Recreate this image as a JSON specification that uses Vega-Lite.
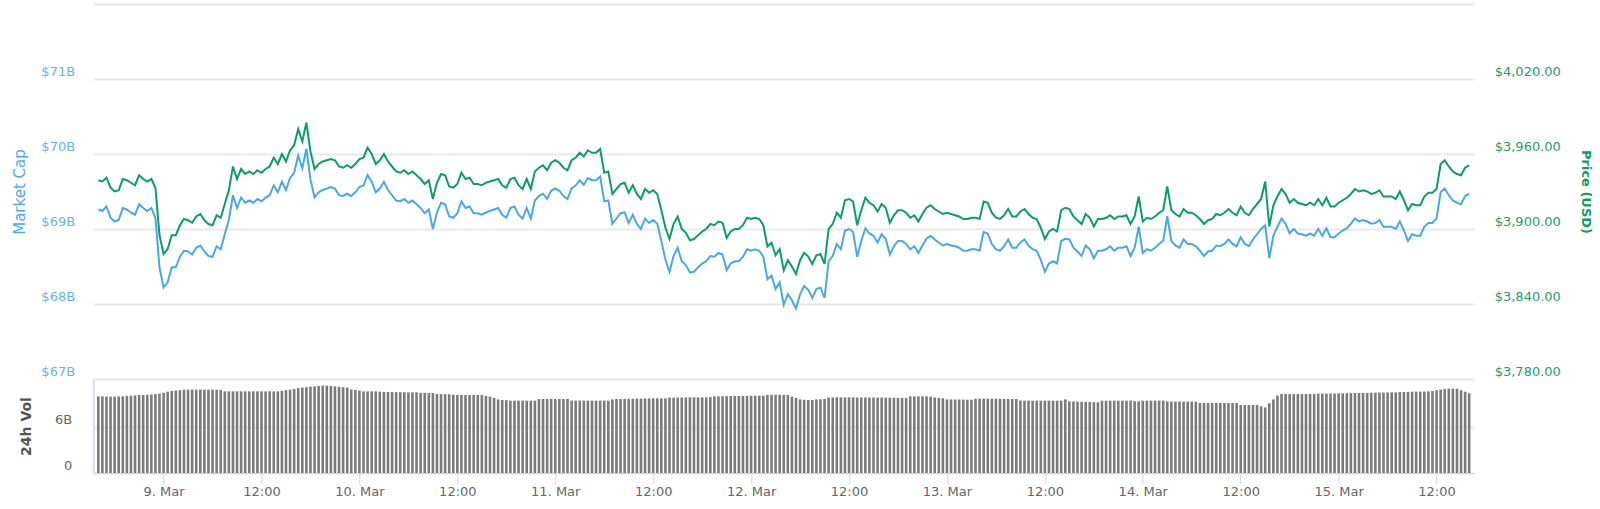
{
  "$schema": "https://vega.github.io/schema/vega-lite/v6.json",
  "autosize": {"type": "fit-x", "contains": "padding"},
  "padding": {"left": 12.3, "top": 4, "right": 7.8, "bottom": 5},
  "width": 1600,
  "height": 469,
  "data": {
    "values": [
      {"t":"2019-03-08T16:00","p":3939,"m":69.26,"v":10.0},
      {"t":"2019-03-08T16:30","p":3938,"m":69.24,"v":10.0},
      {"t":"2019-03-08T17:00","p":3941,"m":69.30,"v":9.98},
      {"t":"2019-03-08T17:30","p":3933,"m":69.15,"v":9.96},
      {"t":"2019-03-08T18:00","p":3930,"m":69.10,"v":9.95},
      {"t":"2019-03-08T18:30","p":3931,"m":69.12,"v":9.98},
      {"t":"2019-03-08T19:00","p":3940,"m":69.28,"v":10.0},
      {"t":"2019-03-08T19:30","p":3939,"m":69.26,"v":10.05},
      {"t":"2019-03-08T20:00","p":3937,"m":69.22,"v":10.08},
      {"t":"2019-03-08T20:30","p":3935,"m":69.19,"v":10.12},
      {"t":"2019-03-08T21:00","p":3943,"m":69.33,"v":10.17},
      {"t":"2019-03-08T21:30","p":3940,"m":69.28,"v":10.17},
      {"t":"2019-03-08T22:00","p":3938,"m":69.24,"v":10.2},
      {"t":"2019-03-08T22:30","p":3940,"m":69.28,"v":10.25},
      {"t":"2019-03-08T23:00","p":3933,"m":69.15,"v":10.3},
      {"t":"2019-03-08T23:30","p":3895,"m":68.49,"v":10.35},
      {"t":"2019-03-09T00:00","p":3880,"m":68.22,"v":10.45},
      {"t":"2019-03-09T00:30","p":3884,"m":68.29,"v":10.6},
      {"t":"2019-03-09T01:00","p":3895,"m":68.49,"v":10.7},
      {"t":"2019-03-09T01:30","p":3895,"m":68.49,"v":10.75},
      {"t":"2019-03-09T02:00","p":3903,"m":68.63,"v":10.8},
      {"t":"2019-03-09T02:30","p":3908,"m":68.71,"v":10.87},
      {"t":"2019-03-09T03:00","p":3907,"m":68.70,"v":10.87},
      {"t":"2019-03-09T03:30","p":3905,"m":68.66,"v":10.88},
      {"t":"2019-03-09T04:00","p":3910,"m":68.75,"v":10.87},
      {"t":"2019-03-09T04:30","p":3912,"m":68.78,"v":10.87},
      {"t":"2019-03-09T05:00","p":3907,"m":68.70,"v":10.86},
      {"t":"2019-03-09T05:30","p":3904,"m":68.64,"v":10.87},
      {"t":"2019-03-09T06:00","p":3903,"m":68.63,"v":10.87},
      {"t":"2019-03-09T06:30","p":3911,"m":68.77,"v":10.85},
      {"t":"2019-03-09T07:00","p":3909,"m":68.73,"v":10.83},
      {"t":"2019-03-09T07:30","p":3920,"m":68.93,"v":10.65},
      {"t":"2019-03-09T08:00","p":3931,"m":69.12,"v":10.65},
      {"t":"2019-03-09T08:30","p":3950,"m":69.45,"v":10.65},
      {"t":"2019-03-09T09:00","p":3940,"m":69.28,"v":10.65},
      {"t":"2019-03-09T09:30","p":3948,"m":69.42,"v":10.65},
      {"t":"2019-03-09T10:00","p":3944,"m":69.35,"v":10.65},
      {"t":"2019-03-09T10:30","p":3946,"m":69.38,"v":10.65},
      {"t":"2019-03-09T11:00","p":3944,"m":69.35,"v":10.66},
      {"t":"2019-03-09T11:30","p":3947,"m":69.40,"v":10.65},
      {"t":"2019-03-09T12:00","p":3945,"m":69.37,"v":10.65},
      {"t":"2019-03-09T12:30","p":3948,"m":69.42,"v":10.64},
      {"t":"2019-03-09T13:00","p":3950,"m":69.45,"v":10.65},
      {"t":"2019-03-09T13:30","p":3957,"m":69.58,"v":10.65},
      {"t":"2019-03-09T14:00","p":3952,"m":69.49,"v":10.65},
      {"t":"2019-03-09T14:30","p":3960,"m":69.63,"v":10.7},
      {"t":"2019-03-09T15:00","p":3954,"m":69.52,"v":10.8},
      {"t":"2019-03-09T15:30","p":3963,"m":69.68,"v":10.87},
      {"t":"2019-03-09T16:00","p":3967,"m":69.75,"v":10.95},
      {"t":"2019-03-09T16:30","p":3980,"m":69.98,"v":11.09},
      {"t":"2019-03-09T17:00","p":3970,"m":69.81,"v":11.15},
      {"t":"2019-03-09T17:30","p":3985,"m":70.07,"v":11.2},
      {"t":"2019-03-09T18:00","p":3962,"m":69.66,"v":11.25},
      {"t":"2019-03-09T18:30","p":3948,"m":69.42,"v":11.3},
      {"t":"2019-03-09T19:00","p":3952,"m":69.49,"v":11.35},
      {"t":"2019-03-09T19:30","p":3954,"m":69.52,"v":11.39},
      {"t":"2019-03-09T20:00","p":3955,"m":69.54,"v":11.4},
      {"t":"2019-03-09T20:30","p":3956,"m":69.56,"v":11.35},
      {"t":"2019-03-09T21:00","p":3955,"m":69.54,"v":11.3},
      {"t":"2019-03-09T21:30","p":3950,"m":69.45,"v":11.25},
      {"t":"2019-03-09T22:00","p":3949,"m":69.44,"v":11.2},
      {"t":"2019-03-09T22:30","p":3951,"m":69.47,"v":11.15},
      {"t":"2019-03-09T23:00","p":3949,"m":69.44,"v":10.9},
      {"t":"2019-03-09T23:30","p":3952,"m":69.49,"v":10.83},
      {"t":"2019-03-10T00:00","p":3956,"m":69.56,"v":10.75},
      {"t":"2019-03-10T00:30","p":3957,"m":69.58,"v":10.65},
      {"t":"2019-03-10T01:00","p":3965,"m":69.72,"v":10.65},
      {"t":"2019-03-10T01:30","p":3960,"m":69.63,"v":10.65},
      {"t":"2019-03-10T02:00","p":3952,"m":69.49,"v":10.65},
      {"t":"2019-03-10T02:30","p":3955,"m":69.54,"v":10.6},
      {"t":"2019-03-10T03:00","p":3960,"m":69.63,"v":10.58},
      {"t":"2019-03-10T03:30","p":3954,"m":69.52,"v":10.56},
      {"t":"2019-03-10T04:00","p":3950,"m":69.45,"v":10.55},
      {"t":"2019-03-10T04:30","p":3946,"m":69.38,"v":10.55},
      {"t":"2019-03-10T05:00","p":3945,"m":69.37,"v":10.54},
      {"t":"2019-03-10T05:30","p":3947,"m":69.40,"v":10.53},
      {"t":"2019-03-10T06:00","p":3944,"m":69.35,"v":10.52},
      {"t":"2019-03-10T06:30","p":3946,"m":69.38,"v":10.52},
      {"t":"2019-03-10T07:00","p":3943,"m":69.33,"v":10.52},
      {"t":"2019-03-10T07:30","p":3940,"m":69.28,"v":10.45},
      {"t":"2019-03-10T08:00","p":3936,"m":69.21,"v":10.45},
      {"t":"2019-03-10T08:30","p":3939,"m":69.26,"v":10.44},
      {"t":"2019-03-10T09:00","p":3924,"m":69.00,"v":10.43},
      {"t":"2019-03-10T09:30","p":3937,"m":69.22,"v":10.3},
      {"t":"2019-03-10T10:00","p":3944,"m":69.35,"v":10.28},
      {"t":"2019-03-10T10:30","p":3943,"m":69.33,"v":10.27},
      {"t":"2019-03-10T11:00","p":3934,"m":69.17,"v":10.26},
      {"t":"2019-03-10T11:30","p":3933,"m":69.15,"v":10.2},
      {"t":"2019-03-10T12:00","p":3936,"m":69.21,"v":10.18},
      {"t":"2019-03-10T12:30","p":3945,"m":69.37,"v":10.17},
      {"t":"2019-03-10T13:00","p":3940,"m":69.28,"v":10.17},
      {"t":"2019-03-10T13:30","p":3941,"m":69.30,"v":10.17},
      {"t":"2019-03-10T14:00","p":3936,"m":69.21,"v":10.17},
      {"t":"2019-03-10T14:30","p":3936,"m":69.21,"v":10.17},
      {"t":"2019-03-10T15:00","p":3935,"m":69.19,"v":10.17},
      {"t":"2019-03-10T15:30","p":3937,"m":69.22,"v":10.05},
      {"t":"2019-03-10T16:00","p":3938,"m":69.24,"v":9.96},
      {"t":"2019-03-10T16:30","p":3939,"m":69.26,"v":9.8},
      {"t":"2019-03-10T17:00","p":3940,"m":69.28,"v":9.6},
      {"t":"2019-03-10T17:30","p":3935,"m":69.19,"v":9.52},
      {"t":"2019-03-10T18:00","p":3933,"m":69.15,"v":9.5},
      {"t":"2019-03-10T18:30","p":3940,"m":69.28,"v":9.43},
      {"t":"2019-03-10T19:00","p":3941,"m":69.30,"v":9.43},
      {"t":"2019-03-10T19:30","p":3935,"m":69.19,"v":9.43},
      {"t":"2019-03-10T20:00","p":3932,"m":69.14,"v":9.43},
      {"t":"2019-03-10T20:30","p":3940,"m":69.28,"v":9.43},
      {"t":"2019-03-10T21:00","p":3932,"m":69.14,"v":9.43},
      {"t":"2019-03-10T21:30","p":3946,"m":69.38,"v":9.43},
      {"t":"2019-03-10T22:00","p":3949,"m":69.44,"v":9.65},
      {"t":"2019-03-10T22:30","p":3951,"m":69.47,"v":9.65},
      {"t":"2019-03-10T23:00","p":3947,"m":69.40,"v":9.65},
      {"t":"2019-03-10T23:30","p":3953,"m":69.51,"v":9.65},
      {"t":"2019-03-11T00:00","p":3955,"m":69.54,"v":9.65},
      {"t":"2019-03-11T00:30","p":3953,"m":69.51,"v":9.65},
      {"t":"2019-03-11T01:00","p":3949,"m":69.44,"v":9.65},
      {"t":"2019-03-11T01:30","p":3947,"m":69.40,"v":9.65},
      {"t":"2019-03-11T02:00","p":3955,"m":69.54,"v":9.43},
      {"t":"2019-03-11T02:30","p":3957,"m":69.58,"v":9.43},
      {"t":"2019-03-11T03:00","p":3961,"m":69.65,"v":9.43},
      {"t":"2019-03-11T03:30","p":3958,"m":69.59,"v":9.43},
      {"t":"2019-03-11T04:00","p":3963,"m":69.68,"v":9.43},
      {"t":"2019-03-11T04:30","p":3961,"m":69.65,"v":9.43},
      {"t":"2019-03-11T05:00","p":3961,"m":69.65,"v":9.43},
      {"t":"2019-03-11T05:30","p":3964,"m":69.70,"v":9.43},
      {"t":"2019-03-11T06:00","p":3945,"m":69.37,"v":9.43},
      {"t":"2019-03-11T06:30","p":3946,"m":69.38,"v":9.43},
      {"t":"2019-03-11T07:00","p":3928,"m":69.07,"v":9.6},
      {"t":"2019-03-11T07:30","p":3932,"m":69.14,"v":9.65},
      {"t":"2019-03-11T08:00","p":3936,"m":69.21,"v":9.65},
      {"t":"2019-03-11T08:30","p":3937,"m":69.22,"v":9.66},
      {"t":"2019-03-11T09:00","p":3929,"m":69.08,"v":9.67},
      {"t":"2019-03-11T09:30","p":3935,"m":69.19,"v":9.68},
      {"t":"2019-03-11T10:00","p":3928,"m":69.07,"v":9.7},
      {"t":"2019-03-11T10:30","p":3924,"m":69.00,"v":9.7},
      {"t":"2019-03-11T11:00","p":3932,"m":69.14,"v":9.72},
      {"t":"2019-03-11T11:30","p":3929,"m":69.08,"v":9.73},
      {"t":"2019-03-11T12:00","p":3931,"m":69.12,"v":9.74},
      {"t":"2019-03-11T12:30","p":3928,"m":69.07,"v":9.74},
      {"t":"2019-03-11T13:00","p":3915,"m":68.84,"v":9.74},
      {"t":"2019-03-11T13:30","p":3901,"m":68.59,"v":9.74},
      {"t":"2019-03-11T14:00","p":3892,"m":68.43,"v":9.83},
      {"t":"2019-03-11T14:30","p":3904,"m":68.64,"v":9.83},
      {"t":"2019-03-11T15:00","p":3910,"m":68.75,"v":9.85},
      {"t":"2019-03-11T15:30","p":3900,"m":68.57,"v":9.85},
      {"t":"2019-03-11T16:00","p":3897,"m":68.52,"v":9.86},
      {"t":"2019-03-11T16:30","p":3891,"m":68.42,"v":9.87},
      {"t":"2019-03-11T17:00","p":3892,"m":68.43,"v":9.87},
      {"t":"2019-03-11T17:30","p":3895,"m":68.49,"v":9.87},
      {"t":"2019-03-11T18:00","p":3898,"m":68.54,"v":9.87},
      {"t":"2019-03-11T18:30","p":3900,"m":68.57,"v":9.87},
      {"t":"2019-03-11T19:00","p":3904,"m":68.64,"v":9.9},
      {"t":"2019-03-11T19:30","p":3903,"m":68.63,"v":10.0},
      {"t":"2019-03-11T20:00","p":3906,"m":68.68,"v":10.0},
      {"t":"2019-03-11T20:30","p":3905,"m":68.66,"v":10.02},
      {"t":"2019-03-11T21:00","p":3893,"m":68.45,"v":10.02},
      {"t":"2019-03-11T21:30","p":3898,"m":68.54,"v":10.03},
      {"t":"2019-03-11T22:00","p":3900,"m":68.57,"v":10.04},
      {"t":"2019-03-11T22:30","p":3900,"m":68.57,"v":10.05},
      {"t":"2019-03-11T23:00","p":3903,"m":68.63,"v":10.06},
      {"t":"2019-03-11T23:30","p":3909,"m":68.73,"v":10.06},
      {"t":"2019-03-12T00:00","p":3908,"m":68.71,"v":10.07},
      {"t":"2019-03-12T00:30","p":3909,"m":68.73,"v":10.08},
      {"t":"2019-03-12T01:00","p":3908,"m":68.71,"v":10.08},
      {"t":"2019-03-12T01:30","p":3903,"m":68.63,"v":10.08},
      {"t":"2019-03-12T02:00","p":3886,"m":68.33,"v":10.2},
      {"t":"2019-03-12T02:30","p":3889,"m":68.38,"v":10.21},
      {"t":"2019-03-12T03:00","p":3879,"m":68.20,"v":10.2},
      {"t":"2019-03-12T03:30","p":3884,"m":68.29,"v":10.2},
      {"t":"2019-03-12T04:00","p":3867,"m":67.99,"v":10.18},
      {"t":"2019-03-12T04:30","p":3875,"m":68.13,"v":10.17},
      {"t":"2019-03-12T05:00","p":3870,"m":68.05,"v":9.95},
      {"t":"2019-03-12T05:30","p":3864,"m":67.94,"v":9.8},
      {"t":"2019-03-12T06:00","p":3875,"m":68.13,"v":9.6},
      {"t":"2019-03-12T06:30","p":3881,"m":68.24,"v":9.55},
      {"t":"2019-03-12T07:00","p":3878,"m":68.19,"v":9.52},
      {"t":"2019-03-12T07:30","p":3872,"m":68.08,"v":9.52},
      {"t":"2019-03-12T08:00","p":3879,"m":68.20,"v":9.6},
      {"t":"2019-03-12T08:30","p":3880,"m":68.22,"v":9.62},
      {"t":"2019-03-12T09:00","p":3872,"m":68.08,"v":9.65},
      {"t":"2019-03-12T09:30","p":3900,"m":68.57,"v":9.83},
      {"t":"2019-03-12T10:00","p":3904,"m":68.64,"v":9.85},
      {"t":"2019-03-12T10:30","p":3913,"m":68.80,"v":9.87},
      {"t":"2019-03-12T11:00","p":3909,"m":68.73,"v":9.87},
      {"t":"2019-03-12T11:30","p":3923,"m":68.98,"v":9.86},
      {"t":"2019-03-12T12:00","p":3924,"m":69.00,"v":9.87},
      {"t":"2019-03-12T12:30","p":3922,"m":68.96,"v":9.86},
      {"t":"2019-03-12T13:00","p":3903,"m":68.63,"v":9.85},
      {"t":"2019-03-12T13:30","p":3915,"m":68.84,"v":9.86},
      {"t":"2019-03-12T14:00","p":3925,"m":69.01,"v":9.85},
      {"t":"2019-03-12T14:30","p":3921,"m":68.94,"v":9.84},
      {"t":"2019-03-12T15:00","p":3919,"m":68.91,"v":9.84},
      {"t":"2019-03-12T15:30","p":3914,"m":68.82,"v":9.83},
      {"t":"2019-03-12T16:00","p":3920,"m":68.93,"v":9.83},
      {"t":"2019-03-12T16:30","p":3917,"m":68.87,"v":9.82},
      {"t":"2019-03-12T17:00","p":3905,"m":68.66,"v":9.82},
      {"t":"2019-03-12T17:30","p":3911,"m":68.77,"v":9.81},
      {"t":"2019-03-12T18:00","p":3915,"m":68.84,"v":9.8},
      {"t":"2019-03-12T18:30","p":3915,"m":68.84,"v":9.8},
      {"t":"2019-03-12T19:00","p":3913,"m":68.80,"v":9.78},
      {"t":"2019-03-12T19:30","p":3909,"m":68.73,"v":10.0},
      {"t":"2019-03-12T20:00","p":3911,"m":68.77,"v":10.0},
      {"t":"2019-03-12T20:30","p":3906,"m":68.68,"v":10.0},
      {"t":"2019-03-12T21:00","p":3912,"m":68.78,"v":10.0},
      {"t":"2019-03-12T21:30","p":3917,"m":68.87,"v":10.0},
      {"t":"2019-03-12T22:00","p":3919,"m":68.91,"v":9.95},
      {"t":"2019-03-12T22:30","p":3916,"m":68.86,"v":9.85},
      {"t":"2019-03-12T23:00","p":3914,"m":68.82,"v":9.8},
      {"t":"2019-03-12T23:30","p":3912,"m":68.78,"v":9.75},
      {"t":"2019-03-13T00:00","p":3913,"m":68.80,"v":9.6},
      {"t":"2019-03-13T00:30","p":3912,"m":68.78,"v":9.6},
      {"t":"2019-03-13T01:00","p":3911,"m":68.77,"v":9.58},
      {"t":"2019-03-13T01:30","p":3910,"m":68.75,"v":9.58},
      {"t":"2019-03-13T02:00","p":3908,"m":68.71,"v":9.57},
      {"t":"2019-03-13T02:30","p":3908,"m":68.71,"v":9.56},
      {"t":"2019-03-13T03:00","p":3909,"m":68.73,"v":9.56},
      {"t":"2019-03-13T03:30","p":3909,"m":68.73,"v":9.68},
      {"t":"2019-03-13T04:00","p":3908,"m":68.71,"v":9.69},
      {"t":"2019-03-13T04:30","p":3922,"m":68.96,"v":9.69},
      {"t":"2019-03-13T05:00","p":3921,"m":68.94,"v":9.69},
      {"t":"2019-03-13T05:30","p":3913,"m":68.80,"v":9.68},
      {"t":"2019-03-13T06:00","p":3909,"m":68.73,"v":9.68},
      {"t":"2019-03-13T06:30","p":3908,"m":68.71,"v":9.68},
      {"t":"2019-03-13T07:00","p":3911,"m":68.77,"v":9.67},
      {"t":"2019-03-13T07:30","p":3916,"m":68.86,"v":9.66},
      {"t":"2019-03-13T08:00","p":3910,"m":68.75,"v":9.66},
      {"t":"2019-03-13T08:30","p":3910,"m":68.75,"v":9.65},
      {"t":"2019-03-13T09:00","p":3914,"m":68.82,"v":9.45},
      {"t":"2019-03-13T09:30","p":3916,"m":68.86,"v":9.43},
      {"t":"2019-03-13T10:00","p":3912,"m":68.78,"v":9.43},
      {"t":"2019-03-13T10:30","p":3909,"m":68.73,"v":9.43},
      {"t":"2019-03-13T11:00","p":3908,"m":68.71,"v":9.43},
      {"t":"2019-03-13T11:30","p":3901,"m":68.59,"v":9.43},
      {"t":"2019-03-13T12:00","p":3892,"m":68.43,"v":9.43},
      {"t":"2019-03-13T12:30","p":3898,"m":68.54,"v":9.43},
      {"t":"2019-03-13T13:00","p":3900,"m":68.57,"v":9.43},
      {"t":"2019-03-13T13:30","p":3898,"m":68.54,"v":9.43},
      {"t":"2019-03-13T14:00","p":3915,"m":68.84,"v":9.43},
      {"t":"2019-03-13T14:30","p":3917,"m":68.87,"v":9.6},
      {"t":"2019-03-13T15:00","p":3916,"m":68.86,"v":9.35},
      {"t":"2019-03-13T15:30","p":3910,"m":68.75,"v":9.33},
      {"t":"2019-03-13T16:00","p":3907,"m":68.70,"v":9.3},
      {"t":"2019-03-13T16:30","p":3904,"m":68.64,"v":9.28},
      {"t":"2019-03-13T17:00","p":3912,"m":68.78,"v":9.27},
      {"t":"2019-03-13T17:30","p":3909,"m":68.73,"v":9.25},
      {"t":"2019-03-13T18:00","p":3902,"m":68.61,"v":9.23},
      {"t":"2019-03-13T18:30","p":3908,"m":68.71,"v":9.22},
      {"t":"2019-03-13T19:00","p":3908,"m":68.71,"v":9.43},
      {"t":"2019-03-13T19:30","p":3909,"m":68.73,"v":9.43},
      {"t":"2019-03-13T20:00","p":3911,"m":68.77,"v":9.43},
      {"t":"2019-03-13T20:30","p":3908,"m":68.71,"v":9.43},
      {"t":"2019-03-13T21:00","p":3910,"m":68.75,"v":9.43},
      {"t":"2019-03-13T21:30","p":3910,"m":68.75,"v":9.43},
      {"t":"2019-03-13T22:00","p":3911,"m":68.77,"v":9.43},
      {"t":"2019-03-13T22:30","p":3904,"m":68.64,"v":9.43},
      {"t":"2019-03-13T23:00","p":3910,"m":68.75,"v":9.38},
      {"t":"2019-03-13T23:30","p":3926,"m":69.03,"v":9.35},
      {"t":"2019-03-14T00:00","p":3906,"m":68.68,"v":9.43},
      {"t":"2019-03-14T00:30","p":3909,"m":68.73,"v":9.43},
      {"t":"2019-03-14T01:00","p":3908,"m":68.71,"v":9.43},
      {"t":"2019-03-14T01:30","p":3910,"m":68.75,"v":9.43},
      {"t":"2019-03-14T02:00","p":3913,"m":68.80,"v":9.43},
      {"t":"2019-03-14T02:30","p":3915,"m":68.84,"v":9.43},
      {"t":"2019-03-14T03:00","p":3934,"m":69.17,"v":9.35},
      {"t":"2019-03-14T03:30","p":3915,"m":68.84,"v":9.32},
      {"t":"2019-03-14T04:00","p":3912,"m":68.78,"v":9.32},
      {"t":"2019-03-14T04:30","p":3910,"m":68.75,"v":9.32},
      {"t":"2019-03-14T05:00","p":3916,"m":68.86,"v":9.32},
      {"t":"2019-03-14T05:30","p":3913,"m":68.80,"v":9.32},
      {"t":"2019-03-14T06:00","p":3913,"m":68.80,"v":9.31},
      {"t":"2019-03-14T06:30","p":3911,"m":68.77,"v":9.3},
      {"t":"2019-03-14T07:00","p":3908,"m":68.71,"v":9.13},
      {"t":"2019-03-14T07:30","p":3904,"m":68.64,"v":9.13},
      {"t":"2019-03-14T08:00","p":3907,"m":68.70,"v":9.13},
      {"t":"2019-03-14T08:30","p":3908,"m":68.71,"v":9.13},
      {"t":"2019-03-14T09:00","p":3912,"m":68.78,"v":9.13},
      {"t":"2019-03-14T09:30","p":3911,"m":68.77,"v":9.13},
      {"t":"2019-03-14T10:00","p":3913,"m":68.80,"v":9.13},
      {"t":"2019-03-14T10:30","p":3916,"m":68.86,"v":9.13},
      {"t":"2019-03-14T11:00","p":3913,"m":68.80,"v":9.13},
      {"t":"2019-03-14T11:30","p":3911,"m":68.77,"v":9.13},
      {"t":"2019-03-14T12:00","p":3918,"m":68.89,"v":8.87},
      {"t":"2019-03-14T12:30","p":3913,"m":68.80,"v":8.87},
      {"t":"2019-03-14T13:00","p":3911,"m":68.77,"v":8.87},
      {"t":"2019-03-14T13:30","p":3916,"m":68.86,"v":8.87},
      {"t":"2019-03-14T14:00","p":3920,"m":68.93,"v":8.87},
      {"t":"2019-03-14T14:30","p":3924,"m":69.00,"v":8.7},
      {"t":"2019-03-14T15:00","p":3938,"m":69.05,"v":8.55},
      {"t":"2019-03-14T15:30","p":3902,"m":68.61,"v":9.1},
      {"t":"2019-03-14T16:00","p":3919,"m":68.91,"v":9.6},
      {"t":"2019-03-14T16:30","p":3926,"m":69.03,"v":10.1},
      {"t":"2019-03-14T17:00","p":3932,"m":69.14,"v":10.3},
      {"t":"2019-03-14T17:30","p":3928,"m":69.07,"v":10.3},
      {"t":"2019-03-14T18:00","p":3921,"m":68.94,"v":10.3},
      {"t":"2019-03-14T18:30","p":3924,"m":69.00,"v":10.3},
      {"t":"2019-03-14T19:00","p":3921,"m":68.94,"v":10.3},
      {"t":"2019-03-14T19:30","p":3920,"m":68.93,"v":10.3},
      {"t":"2019-03-14T20:00","p":3919,"m":68.91,"v":10.3},
      {"t":"2019-03-14T20:30","p":3921,"m":68.94,"v":10.3},
      {"t":"2019-03-14T21:00","p":3919,"m":68.91,"v":10.3},
      {"t":"2019-03-14T21:30","p":3924,"m":69.00,"v":10.35},
      {"t":"2019-03-14T22:00","p":3919,"m":68.91,"v":10.35},
      {"t":"2019-03-14T22:30","p":3925,"m":69.01,"v":10.35},
      {"t":"2019-03-14T23:00","p":3918,"m":68.89,"v":10.36},
      {"t":"2019-03-14T23:30","p":3918,"m":68.89,"v":10.37},
      {"t":"2019-03-15T00:00","p":3921,"m":68.94,"v":10.39},
      {"t":"2019-03-15T00:30","p":3923,"m":68.98,"v":10.4},
      {"t":"2019-03-15T01:00","p":3925,"m":69.01,"v":10.41},
      {"t":"2019-03-15T01:30","p":3928,"m":69.07,"v":10.42},
      {"t":"2019-03-15T02:00","p":3932,"m":69.14,"v":10.42},
      {"t":"2019-03-15T02:30","p":3930,"m":69.10,"v":10.43},
      {"t":"2019-03-15T03:00","p":3931,"m":69.12,"v":10.43},
      {"t":"2019-03-15T03:30","p":3930,"m":69.10,"v":10.45},
      {"t":"2019-03-15T04:00","p":3928,"m":69.07,"v":10.46},
      {"t":"2019-03-15T04:30","p":3929,"m":69.08,"v":10.47},
      {"t":"2019-03-15T05:00","p":3931,"m":69.12,"v":10.48},
      {"t":"2019-03-15T05:30","p":3926,"m":69.03,"v":10.49},
      {"t":"2019-03-15T06:00","p":3926,"m":69.03,"v":10.5},
      {"t":"2019-03-15T06:30","p":3926,"m":69.03,"v":10.51},
      {"t":"2019-03-15T07:00","p":3924,"m":69.00,"v":10.52},
      {"t":"2019-03-15T07:30","p":3930,"m":69.10,"v":10.55},
      {"t":"2019-03-15T08:00","p":3923,"m":68.98,"v":10.57},
      {"t":"2019-03-15T08:30","p":3915,"m":68.84,"v":10.58},
      {"t":"2019-03-15T09:00","p":3920,"m":68.93,"v":10.6},
      {"t":"2019-03-15T09:30","p":3919,"m":68.91,"v":10.61},
      {"t":"2019-03-15T10:00","p":3919,"m":68.91,"v":10.62},
      {"t":"2019-03-15T10:30","p":3926,"m":69.03,"v":10.63},
      {"t":"2019-03-15T11:00","p":3929,"m":69.08,"v":10.65},
      {"t":"2019-03-15T11:30","p":3929,"m":69.08,"v":10.7},
      {"t":"2019-03-15T12:00","p":3932,"m":69.14,"v":10.8},
      {"t":"2019-03-15T12:30","p":3952,"m":69.49,"v":10.87},
      {"t":"2019-03-15T13:00","p":3955,"m":69.54,"v":10.95},
      {"t":"2019-03-15T13:30","p":3950,"m":69.45,"v":11.0},
      {"t":"2019-03-15T14:00","p":3946,"m":69.38,"v":11.0},
      {"t":"2019-03-15T14:30","p":3944,"m":69.35,"v":11.0},
      {"t":"2019-03-15T15:00","p":3943,"m":69.33,"v":10.8},
      {"t":"2019-03-15T15:30","p":3949,"m":69.44,"v":10.6},
      {"t":"2019-03-15T16:00","p":3951,"m":69.47,"v":10.4}
    ]
  },
  "layer": [
    {
      "mark": {"type": "line", "color": "#4aa8e8", "strokeWidth": 2},
      "encoding": {
        "x": {
          "field": "t",
          "type": "temporal",
          "scale": {"nice": false},
          "axis": {
            "orient": "bottom",
            "title": null,
            "tickCount": 14,
            "labelExpr": "timeFormat(datum.value, '%H') == '00' ? timeFormat(datum.value, '%-d. %b') : timeFormat(datum.value, '%H:%M')",
            "domain": true,
            "domainColor": "#ccd6eb",
            "ticks": true,
            "tickColor": "#ccd6eb",
            "tickSize": 11,
            "labelColor": "#666666",
            "labelPadding": 1,
            "labelFlush": false,
            "grid": false
          }
        },
        "y": {
          "field": "m",
          "type": "quantitative",
          "scale": {"domain": [67, 72], "range": [375, 0], "nice": false, "zero": false},
          "axis": {
            "orient": "left",
            "values": [67, 68, 69, 70, 71],
            "grid": true,
            "labelExpr": "'$' + datum.value + 'B'",
            "labelBaseline": "bottom",
            "labelOffset": -1,
            "labelPadding": 18.7,
            "labelColor": "#6cb2ea",
            "title": "Market Cap",
            "titleColor": "#4fa9e8",
            "titleFontSize": 15,
            "titleFontWeight": "normal",
            "titlePadding": 13
          }
        }
      }
    },
    {
      "mark": {"type": "line", "color": "#0e9d64", "strokeWidth": 2},
      "encoding": {
        "x": {
          "field": "t",
          "type": "temporal",
          "axis": {
            "orient": "top",
            "title": null,
            "labels": false,
            "ticks": false,
            "grid": false,
            "domain": true,
            "domainColor": "#e9e9e9",
            "domainWidth": 2
          }
        },
        "y": {
          "field": "p",
          "type": "quantitative",
          "scale": {"domain": [3780, 4080], "range": [375, 0], "nice": false, "zero": false},
          "axis": {
            "orient": "right",
            "values": [3780, 3840, 3900, 3960, 4020],
            "grid": false,
            "format": "$,.2f",
            "labelBaseline": "bottom",
            "labelOffset": -1,
            "labelPadding": 20,
            "labelColor": "#2b9b6b",
            "title": "Price (USD)",
            "titleColor": "#0e9d64",
            "titleFontSize": 13,
            "titleFontWeight": "bold",
            "titlePadding": 18
          }
        }
      }
    },
    {
      "mark": {"type": "bar", "color": "#7b7b7b", "width": 2.6},
      "encoding": {
        "x": {"field": "t", "type": "temporal", "axis": null},
        "y": {
          "field": "v",
          "type": "quantitative",
          "scale": {"domain": [0, 12.26], "range": [469, 375], "nice": false},
          "axis": {
            "orient": "left",
            "values": [0, 6],
            "grid": true,
            "labelExpr": "datum.value == 0 ? '0' : datum.value + 'B'",
            "labelBaseline": "bottom",
            "labelOffset": -0.5,
            "labelPadding": 21.5,
            "labelColor": "#666666",
            "title": "24h Vol",
            "titleColor": "#555555",
            "titleFontSize": 14,
            "titleFontWeight": "bold",
            "titlePadding": 21,
            "domain": true,
            "domainColor": "#d5dcec",
            "domainWidth": 2
          }
        }
      }
    }
  ],
  "resolve": {"scale": {"y": "independent"}, "axis": {"y": "independent", "x": "independent"}},
  "config": {
    "view": {"stroke": null},
    "axis": {
      "labelFont": "DejaVu Sans",
      "titleFont": "DejaVu Sans",
      "labelFontSize": 13,
      "gridColor": "#e9e9e9",
      "gridWidth": 2,
      "domain": false,
      "ticks": false
    }
  }
}
